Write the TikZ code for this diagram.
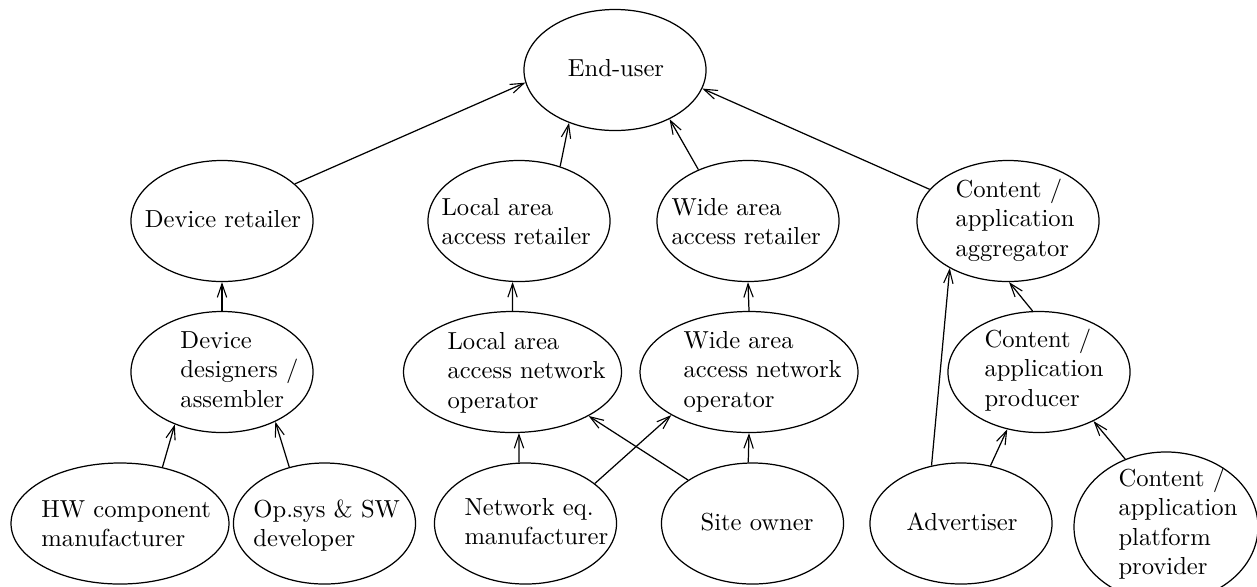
\documentclass[tikz,border=0pt]{standalone}
\usetikzlibrary{shapes.geometric, arrows.meta}
\newcommand{\lblock}[1]{\begin{tabular}[t]{@{}l@{}}#1\end{tabular}}
\tikzset{
  actor/.style={draw, line width=0.5pt, ellipse, inner sep=0pt, minimum width=74pt, minimum height=49.2pt},
  wideactor/.style={actor, minimum width=88.6pt},
  tallactor/.style={actor, minimum width=74.8pt, minimum height=61pt},
  lbl/.style={inner sep=0pt, anchor=base west},
  clbl/.style={inner sep=0pt, anchor=base},
  link/.style={-{Straight Barb[length=5.5pt, width=3.8pt, line width=0.45pt]}, line width=0.5pt}
}
\begin{document}
\begin{tikzpicture}[x=0.4065pt, y=-0.4065pt]
\useasboundingbox (0,0) rectangle (1257,586);
\clip (0,0) rectangle (1257,586);

% ellipses
\node[actor]     (eu)   at (615,70)      {};
\node[actor]     (dr)   at (222,221)     {};
\node[actor]     (lar)  at (519,221)     {};
\node[actor]     (war)  at (748,221)     {};
\node[actor]     (agg)  at (1008,221)    {};
\node[actor]     (dd)   at (222,372)     {};
\node[wideactor] (lno)  at (512.5,372)   {};
\node[wideactor] (wno)  at (749,372)     {};
\node[actor]     (pro)  at (1039,372)    {};
\node[wideactor] (hw)   at (120,523.5)   {};
\node[actor]     (os)   at (324.5,523.5) {};
\node[actor]     (ne)   at (525.5,523.5) {};
\node[actor]     (so)   at (752.5,523.5) {};
\node[actor]     (adv)  at (961,523.5)   {};
\node[tallactor] (plat) at (1166,527)    {};

% labels
\node[clbl] (eu-t)   at (616,76)   {End-user};
\node[clbl] (dr-t)   at (223,227)  {Device retailer};
\node[lbl]  (lar-t)  at (441,215)  {\lblock{Local area\\access retailer}};
\node[lbl]  (war-t)  at (671,215)  {\lblock{Wide area\\access retailer}};
\node[lbl]  (agg-t)  at (955,197)  {\lblock{Content /\\application\\aggregator}};
\node[lbl]  (dd-t)   at (180,348)  {\lblock{Device\\designers /\\assembler}};
\node[lbl]  (lno-t)  at (447,349)  {\lblock{Local area\\access network\\operator}};
\node[lbl]  (wno-t)  at (683,348)  {\lblock{Wide area\\access network\\operator}};
\node[lbl]  (pro-t)  at (984,347)  {\lblock{Content /\\application\\producer}};
\node[lbl]  (hw-t)   at (41,517)   {\lblock{HW component\\manufacturer}};
\node[lbl]  (os-t)   at (253,517)  {\lblock{Op.sys \& SW\\developer}};
\node[lbl]  (ne-t)   at (464,515)  {\lblock{Network eq.\\manufacturer}};
\node[clbl] (so-t)   at (757,530)  {Site owner};
\node[clbl] (adv-t)  at (962,530)  {Advertiser};
\node[lbl]  (plat-t) at (1118,486) {\lblock{Content /\\application\\platform\\provider}};

% value flows
\draw[link] (dr.27.2)   -- (eu.188);
\draw[link] (lar.53.4)  -- (eu.229.6);
\draw[link] (war.134.8) -- (eu.318.2);
\draw[link] (agg.158.8) -- (eu.348.8);
\draw[link] (dd.90)     -- (dr.270);
\draw[link] (hw.53.3)   -- (dd.228.2);
\draw[link] (os.122.5)  -- (dd.317.2);
\draw[link] (lno.90)    -- (lar.264);
\draw[link] (wno.90)    -- (war.270);
\draw[link] (ne.96.1)   -- (lno.276.1);
\draw[link] (ne.30.6)   -- (wno.209);
\draw[link] (so.146.9)  -- (lno.330.9);
\draw[link] (so.94)     -- (wno.270);
\draw[link] (adv.117)   -- (agg.219.6);
\draw[link] (adv.63.7)  -- (pro.241.4);
\draw[link] (pro.96.3)  -- (agg.271.9);
\draw[link] (plat.121)  -- (pro.318);
\end{tikzpicture}
\end{document}
